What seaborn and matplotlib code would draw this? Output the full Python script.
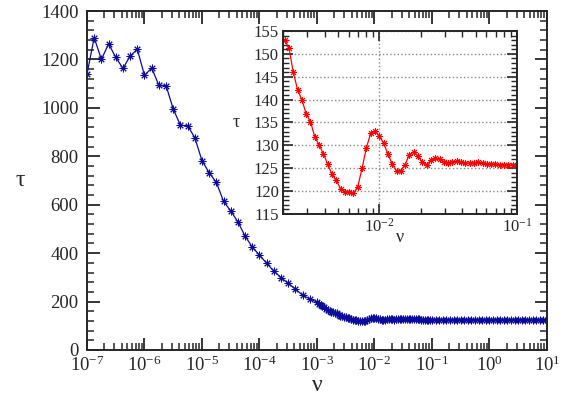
import numpy as np
import pandas as pd
import matplotlib
matplotlib.use("Agg")
import matplotlib.pyplot as plt
import seaborn as sns
from matplotlib.ticker import MultipleLocator, LogLocator, NullFormatter

# --- DATA ---
# coarse part: 8 points per decade, 1e-7 .. 10^-3.125
nu_coarse = np.logspace(-7, -3.125, 32)
tau_coarse = [1140, 1290, 1200, 1264, 1209, 1163, 1214, 1242,
              1134, 1165, 1093, 1092, 995, 928, 926, 877,
              782, 732, 692, 614, 574, 529, 470, 425,
              392, 358, 326, 299, 275, 252, 226, 211]

# dense part: 32 points per decade, 1e-3 .. 10^-2.71875
nu_dense = np.logspace(-3, -87 / 32, 10)
tau_dense = [198, 192, 187, 181, 176, 171, 166, 162, 158, 155]

# inset part: 32 points per decade, 10^-2.6875 .. 1e-1
nu_inset = np.logspace(-86 / 32, -1, 55)
tau_inset = [153.0, 151.3, 146.0, 142.2, 140.0, 136.9, 135.2, 131.9,
             130.1, 128.2, 125.9, 123.7, 122.4, 120.5, 119.9, 119.8,
             119.5, 121.0, 125.0, 129.5, 132.6, 133.2, 132.0, 130.5,
             128.1, 126.0, 124.4, 124.5, 125.8, 128.0, 128.6, 127.6,
             126.4, 125.8, 126.7, 127.2, 127.0, 126.3, 126.2, 126.4,
             126.5, 126.4, 126.2, 126.1, 126.2, 126.3, 126.2, 126.0,
             125.9, 125.9, 125.8, 125.8, 125.7, 125.7, 125.6]

# tail: 16 points per decade, 10^-0.9375 .. 1e1
nu_tail = np.logspace(-0.9375, 1, 32)
tau_tail = [125.6, 125.6, 125.6, 125.6, 125.6, 125.6, 125.6, 125.6,
            125.6, 125.6, 125.6, 125.6, 125.6, 125.6, 125.6, 125.6,
            125.6, 125.6, 125.6, 125.6, 125.6, 125.6, 125.6, 125.6,
            125.6, 125.6, 125.6, 125.6, 125.6, 125.6, 125.6, 125.6]

main = pd.DataFrame({
    "nu": np.concatenate([nu_coarse, nu_dense, nu_inset, nu_tail]),
    "tau": tau_coarse + tau_dense + tau_inset + tau_tail,
})
inset = pd.DataFrame({"nu": nu_inset, "tau": tau_inset})

# --- STYLE ---
sns.set_style("ticks")
plt.rcParams["font.family"] = ["Liberation Serif", "DejaVu Serif"]
plt.rcParams["mathtext.fontset"] = "custom"
plt.rcParams["mathtext.rm"] = "Liberation Serif"
plt.rcParams["mathtext.it"] = "Liberation Serif:italic"
plt.rcParams["xtick.direction"] = "in"
plt.rcParams["ytick.direction"] = "in"
plt.rcParams["xtick.top"] = True
plt.rcParams["ytick.right"] = True

BLUE = "#0a0a9c"
RED = "#ff0000"
ASTER = (8, 2, 0)

fig = plt.figure(figsize=(5.65, 4.0), dpi=100)

# main panel
ax = fig.add_axes([0.154, 0.125, 0.814, 0.8475])
sns.lineplot(data=main, x="nu", y="tau", ax=ax, color=BLUE, lw=0.9,
             marker=ASTER, markersize=5.5, markeredgewidth=0.7,
             markeredgecolor=BLUE, estimator=None, sort=False)
ax.set_xscale("log")
ax.set_xlim(1e-7, 1e1)
ax.set_ylim(0, 1400)
ax.yaxis.set_major_locator(MultipleLocator(200))
ax.yaxis.set_minor_locator(MultipleLocator(40))
ax.xaxis.set_major_locator(LogLocator(base=10, numticks=20))
ax.xaxis.set_minor_locator(LogLocator(base=10, subs=np.arange(2, 10), numticks=20))
ax.xaxis.set_minor_formatter(NullFormatter())
ax.tick_params(which="major", length=9, width=1.3, labelsize=13.5)
ax.tick_params(axis="x", which="major", pad=4)
ax.tick_params(axis="y", which="major", pad=6)
ax.tick_params(which="minor", length=5, width=1.1)
ax.set_xlabel("ν", fontsize=17, labelpad=0)
ax.set_ylabel("τ", fontsize=17, rotation=0, va="center")
ax.yaxis.set_label_coords(-0.145, 0.5)
for s in ax.spines.values():
    s.set_linewidth(1.4)

# inset panel
ins = fig.add_axes([0.501, 0.465, 0.414, 0.4575])
sns.lineplot(data=inset, x="nu", y="tau", ax=ins, color=RED, lw=0.9,
             marker=ASTER, markersize=5, markeredgewidth=0.7,
             markeredgecolor=RED, estimator=None, sort=False)
ins.set_xscale("log")
ins.set_xlim(2e-3, 1e-1)
ins.set_ylim(115, 155)
ins.yaxis.set_major_locator(MultipleLocator(5))
ins.yaxis.set_minor_locator(MultipleLocator(1))
ins.xaxis.set_major_locator(LogLocator(base=10, numticks=10))
ins.xaxis.set_minor_locator(LogLocator(base=10, subs=np.arange(2, 10), numticks=10))
ins.xaxis.set_minor_formatter(NullFormatter())
ins.grid(True, which="major", color="#888888", linestyle=":", linewidth=1)
ins.tick_params(which="major", length=7, width=1.2, labelsize=12, pad=3)
ins.tick_params(which="minor", length=4, width=1)
ins.set_xlabel("ν", fontsize=13, labelpad=-5)
ins.set_ylabel("τ", fontsize=13, rotation=0, va="center")
ins.yaxis.set_label_coords(-0.2, 0.5)
for s in ins.spines.values():
    s.set_linewidth(1.4)

fig.savefig("out.png", dpi=100)
